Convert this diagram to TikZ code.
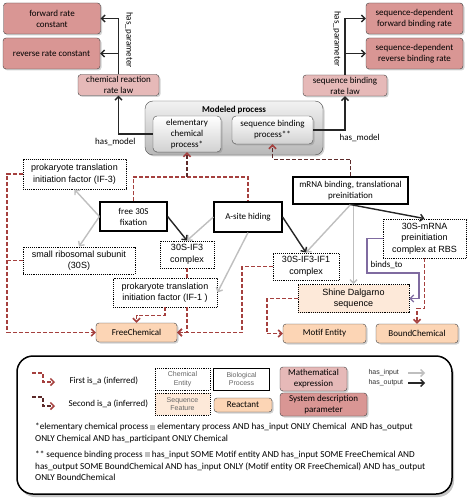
\documentclass[tikz,border=0pt]{standalone}
\usepackage{fontspec}
\setmainfont{Carlito}
\newfontfamily\arialfont{Liberation Sans}
\usetikzlibrary{arrows.meta,shadows}
\definecolor{paramred}{HTML}{D99694}
\definecolor{lawpink}{HTML}{E6B9B8}
\definecolor{reactorange}{HTML}{FCD5B5}
\definecolor{seqpeach}{HTML}{FDE9D9}
\definecolor{isared}{HTML}{A5403E}
\definecolor{isadark}{HTML}{5C2A2A}
\definecolor{bindpurple}{HTML}{7F6BA0}
\definecolor{inputgray}{HTML}{BFBFBF}
\newcommand{\eqvbox}{\textcolor{black!25}{\rule{5pt}{5pt}}}

\begin{document}
\begin{tikzpicture}[x=1pt,y=-1pt,
font=\fontsize{9}{11}\selectfont,
shade/.style={drop shadow={opacity=0.35,shadow xshift=1.5pt,shadow yshift=-1.5pt}},
box/.style={draw=black!75, rounded corners=3pt, align=center, inner sep=1pt, shade},
param/.style={box, fill=paramred, minimum width=97pt, minimum height=31pt},
ratelaw/.style={box, fill=lawpink, minimum height=21pt},
kind/.style={box, fill=reactorange, minimum height=19pt},
subproc/.style={box, draw=black!70, rounded corners=4pt, top color=white, bottom color=black!18},
chem/.style={draw, densely dotted, line width=0.9pt, fill=white, align=center, inner sep=1pt,
  font=\arialfont\fontsize{9}{11.5}\selectfont},
proc/.style={draw, line width=1.2pt, fill=white, align=center, inner sep=1pt},
tip/.style={-{Straight Barb[length=3.5pt,width=7pt]}},
input/.style={tip, inputgray, line width=1.4pt},
output/.style={tip, black!85, line width=1.4pt},
isaline/.style={isared, line width=1.5pt, dash pattern=on 4pt off 2pt},
isaone/.style={isaline, -{Straight Barb[length=3.5pt,width=7pt,isared]}},
isatwo/.style={isaline, isadark, -{Straight Barb[length=3.5pt,width=7pt,isared]}},
binds/.style={tip, bindpurple, line width=1.2pt},
small/.style={font=\arialfont\fontsize{7}{8.5}\selectfont, text=black!60, align=center},
]
\useasboundingbox (0,0) rectangle (467,502);

\node[draw, line width=1.5pt, rounded corners=16pt, fill=white, minimum width=435pt, minimum height=138pt,
  drop shadow={opacity=0.45,shadow xshift=2pt,shadow yshift=-3pt}] (legend) at (234.5,425) {};

\node[param] (fwdrate) at (52,18.5) {forward rate\\constant};
\node[param] (revrate) at (51.5,53.5) {reverse rate constant};
\node[ratelaw, minimum width=81pt] (chemlaw) at (118.5,85) {chemical reaction\\rate law};
\node[param] (seqfwd) at (414.5,18.5) {sequence-dependent\\forward binding rate};
\node[param] (seqrev) at (414.5,53.5) {sequence-dependent\\reverse binding rate};
\node[ratelaw, minimum width=84pt] (seqlaw) at (345,85.5) {sequence binding\\rate law};

\node[box, draw=black!70, rounded corners=8pt, top color=black!5, bottom color=black!28,
  minimum width=178pt, minimum height=54pt] (modeled) at (234,128) {};
\node[font=\bfseries\fontsize{9}{11}\selectfont] (modtitle) at (234,110) {Modeled process};
\node[subproc, minimum width=68pt, minimum height=36pt] (elemproc) at (187,134) {elementary\\chemical\\process*};
\node[subproc, minimum width=81pt, minimum height=28pt] (seqproc) at (272.5,130) {sequence binding\\process**};

\node[chem, minimum width=103pt, minimum height=30pt] (ifthree) at (74.5,174) {prokaryote translation\\initiation factor (IF-3)};
\node[proc, minimum width=67pt, minimum height=29pt] (freefix) at (133.5,216.5) {free 30S\\fixation};
\node[chem, minimum width=112pt, minimum height=27pt] (smallsub) at (79,260.5) {small ribosomal subunit\\(30S)};
\node[chem, minimum width=54pt, minimum height=27pt] (ifthreecx) at (187,254.5) {30S-IF3\\complex};
\node[chem, minimum width=104pt, minimum height=29pt] (ifone) at (165,292.5) {prokaryote translation\\initiation factor (IF-1 )};
\node[proc, minimum width=68pt, minimum height=30pt] (asite) at (248,217) {A-site hiding};
\node[proc, minimum width=115pt, minimum height=27pt] (mrna) at (350.5,190.5) {mRNA binding, translational\\preinitiation};
\node[chem, minimum width=83pt, minimum height=39pt] (prerbs) at (424.5,238.5) {30S-mRNA\\preinitiation\\complex at RBS};
\node[chem, minimum width=66pt, minimum height=27pt] (ifonecx) at (306,266.5) {30S-IF3-IF1\\complex};
\node[chem, fill=seqpeach, minimum width=111pt, minimum height=28pt] (shine) at (353.5,298.5) {Shine Dalgarno\\sequence};
\node[kind, minimum width=81pt] (freechem) at (136.5,332.5) {FreeChemical};
\node[kind, minimum width=83pt] (motif) at (324.5,333.5) {Motif Entity};
\node[kind, minimum width=82pt] (bound) at (417,333.5) {BoundChemical};

\draw[output] (chemlaw.north) |- (fwdrate.east);
\draw[output] (chemlaw.north) |- (revrate.east);
\draw[output] (seqlaw.north) |- (seqfwd.west);
\draw[output] (seqlaw.north) |- (seqrev.west);
\draw[output] (elemproc.west) -| (chemlaw.south);
\draw[output] (seqproc.east) -| (seqlaw.south);
\node[rotate=-90] (paramleft) at (129,40) {has\_parameter};
\node[rotate=-90] (paramright) at (337,39) {has\_parameter};
\node[anchor=east] (modelleft) at (139,142) {has\_model};
\node[anchor=west] (modelright) at (336,138) {has\_model};

\coordinate (isajoin) at (187,177);
\draw[isaline] (freefix.north) |- (asite.north |- isajoin) -- (asite.north);
\draw[isatwo] (isajoin) -- (elemproc.south);
\draw[isatwo] (mrna.north) -- ++(0,-17) -| (seqproc.south);

\coordinate (freeleft) at (7,332.5);
\coordinate (freeright) at (242,332.5);
\coordinate (motifleft) at (267,333.5);
\draw[isaone] (ifthree.west) -| (freeleft) -- (freechem.west);
\draw[isaline] (smallsub.west) -- (smallsub.west -| freeleft);
\draw[isaone] (ifone.south) -- ++(0,8) -| (freechem.north);
\draw[isaline] (ifthreecx.south) -- (ifthreecx.south |- ifone.north);
\draw[isaone] (ifthreecx.south |- ifone.south) |- (freechem.east);
\draw[isaone] (ifonecx.west) -| (freeright) -- (freechem.east);
\draw[isaone] (shine.west) -| (motifleft) -- (motif.west);
\draw[isaone] (prerbs.south) -- ++(0,50) -| (bound.north);

\path[input]
(freefix.west) edge (ifthree.south)
(freefix.west) edge (smallsub.north)
(asite.west) edge (ifthreecx.north)
(asite.south) edge (ifone.east)
(mrna.south) edge (ifonecx.north)
(shine.north |- mrna.south) edge (shine.north)
;
\path[output]
(freefix.east) edge (ifthreecx.north)
(asite.east) edge (ifonecx.north)
(mrna.south) edge (prerbs.north)
;

\draw[binds] (prerbs.west) -| (367,273) -- (419,273) |- (shine.east);
\node (bindlabel) at (386.5,265) {binds\_to};

\coordinate (firsticon) at (32,373);
\coordinate (secondicon) at (32,397);
\draw[isaone] (firsticon) -- ++(11,0) |- ++(12,9);
\draw[isatwo] (secondicon) -- ++(11,0) |- ++(12,9);
\node[anchor=west] (firstlabel) at (66,381) {First is\_a (inferred)};
\node[anchor=west] (secondlabel) at (65,404) {Second is\_a (inferred)};
\node[chem, small, minimum width=55pt, minimum height=22pt] (lchem) at (182.5,379) {Chemical\\Entity};
\node[proc, small, line width=1pt, minimum width=56pt, minimum height=22pt] (lbio) at (241.5,379) {Biological\\Process};
\node[chem, small, fill=seqpeach, minimum width=55pt, minimum height=22pt] (lseq) at (182.5,404) {Sequence\\Feature};
\node[box, fill=lawpink, minimum width=67pt, minimum height=24pt] (lmath) at (313.5,379) {Mathematical\\expression};
\node[kind, minimum width=58pt, minimum height=14pt] (lreact) at (243,405) {Reactant};
\node[box, fill=paramred, minimum width=87pt, minimum height=23pt] (lsys) at (323.5,404.5) {System description\\parameter};
\node[small, text=black!80, anchor=west] (linput) at (365,373) {has\_input};
\node[small, text=black!80, anchor=west] (loutput) at (365,383) {has\_output};
\coordinate (inA) at (408,373);
\coordinate (inB) at (425,373);
\coordinate (outA) at (408,383);
\coordinate (outB) at (425,383);
\path[input] (inA) edge (inB);
\path[output] (outA) edge (outB);

\node[anchor=north west, align=left, inner sep=0pt, font=\fontsize{9.2}{11.8}\selectfont] (defs) at (35,423) {%
*elementary chemical process \eqvbox{} elementary process AND has\_input ONLY Chemical\ \ AND has\_output\\
ONLY Chemical AND has\_participant ONLY Chemical\\[4pt]
** sequence binding process \eqvbox{} has\_input SOME Motif entity AND has\_input SOME FreeChemical AND\\
has\_output SOME BoundChemical AND has\_input ONLY (Motif entity OR FreeChemical) AND has\_output\\
ONLY BoundChemical};
\end{tikzpicture}
\end{document}
